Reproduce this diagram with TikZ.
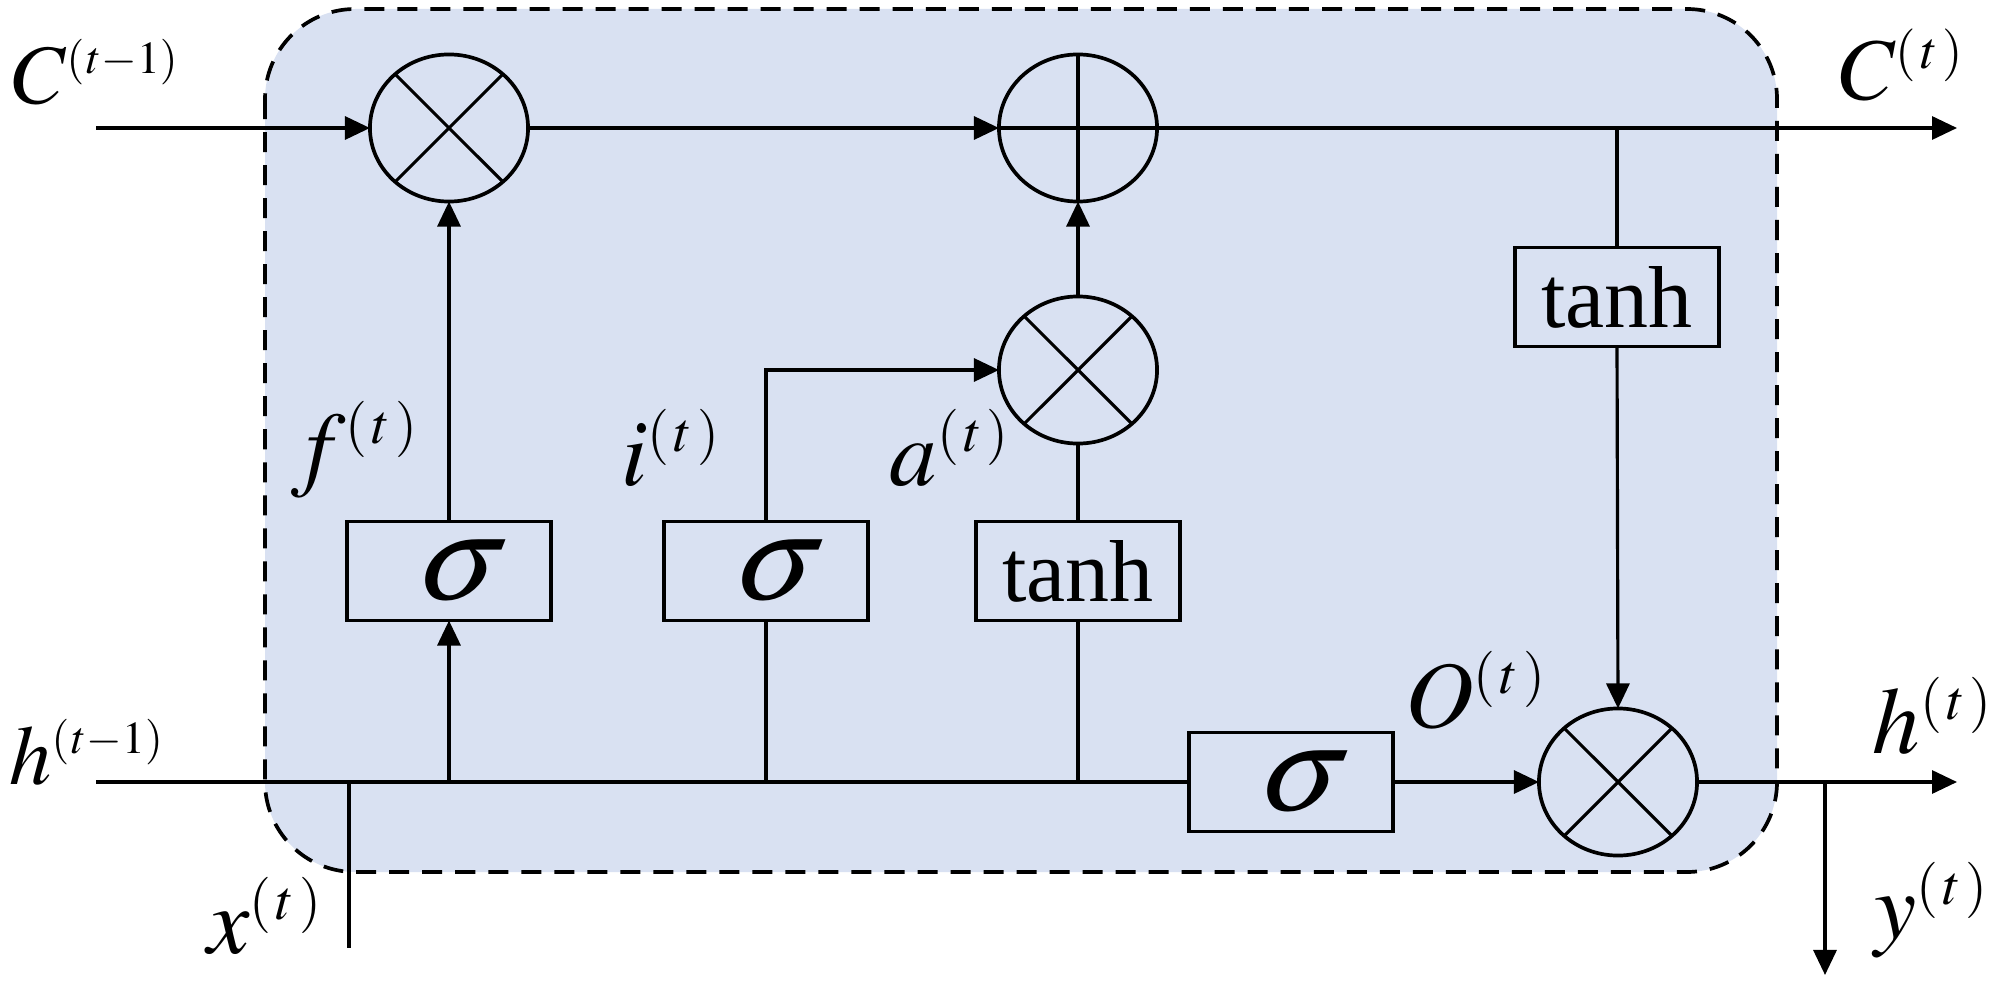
\documentclass[tikz,border=0pt]{standalone}
\usepackage{mathptmx}
\usepackage[no-math]{fontspec}
\setmainfont{Liberation Serif}
\usetikzlibrary{shapes.geometric,arrows.meta}
\DeclareMathSizes{24}{24}{13}{10}
\DeclareMathSizes{25}{25}{15}{10}
\DeclareMathSizes{27}{27}{16}{11}
\definecolor{cellfill}{RGB}{217,225,242}
\newcommand{\supt}{^{(\mkern1.5mu t\mkern1.5mu)}}
\begin{document}
\begin{tikzpicture}[x=0.01cm,y=-0.01cm,
  conn/.style={line width=0.9pt},
  arr/.style={conn,-{Triangle[length=0.25cm,width=0.23cm]}},
  opnode/.style={ellipse,draw,line width=1.05pt,minimum width=1.58cm,minimum height=1.47cm,inner sep=0pt,outer sep=0pt},
  gate/.style={rectangle,draw,line width=1.05pt,minimum width=2.04cm,minimum height=0.99cm,inner sep=0pt,outer sep=0pt},
  sigtxt/.style={inner sep=0pt,font=\fontsize{34}{38}\selectfont,xshift=0.12cm,xslant=0.22,transform shape},
  tnh/.style={gate,font=\fontsize{25}{30}\selectfont},
  lbls/.style={inner sep=0pt,font=\fontsize{24}{29}\selectfont},
  lbl/.style={inner sep=0pt,font=\fontsize{25}{30}\selectfont},
  lblb/.style={inner sep=0pt,font=\fontsize{27}{32}\selectfont}]
\useasboundingbox (0,0) rectangle (2000,988);
% cell background
\draw[fill=cellfill,line width=1.05pt,dash pattern=on 0.2cm off 0.13cm,rounded corners=0.9cm]
  (265,9) rectangle (1777,872);
% operators
\node[opnode] (m1) at (449,128) {};
\node[opnode] (p)  at (1078,128) {};
\node[opnode] (m2) at (1078,370) {};
\node[opnode] (m3) at (1618,782) {};
\draw[conn] (m1.45) -- (m1.225) (m1.135) -- (m1.315);
\draw[conn] (m2.45) -- (m2.225) (m2.135) -- (m2.315);
\draw[conn] (m3.45) -- (m3.225) (m3.135) -- (m3.315);
\draw[conn] (p.north) -- (p.south) (p.west) -- (p.east);
% gates
\node[gate] (s1) at (449,571) {};
\node[gate] (s2) at (766,571) {};
\node[tnh] (t2) at (1078,571) {tanh};
\node[gate] (s3) at (1291,782) {};
\node[tnh] (t1) at (1617,297) {tanh};
\node[sigtxt] (s1t) at (s1.center) {$\sigma$};
\node[sigtxt] (s2t) at (s2.center) {$\sigma$};
\node[sigtxt] (s3t) at (s3.center) {$\sigma$};
% coordinates
\coordinate (cin) at (96,128);
\coordinate (cout) at (1957,128);
\coordinate (hin) at (96,782);
\coordinate (hout) at (1957,782);
\coordinate (xb) at (349,948);
\coordinate (yb) at (1825,975);
% cell state line
\draw[arr] (cin) -- (m1.west);
\draw[arr] (m1.east) -- (p.west);
\draw[arr] (p.east) -- (cout);
\draw[conn] (t1.north |- p.east) -- (t1.north);
\draw[arr] (t1.south) -- (m3.north);
% hidden line
\draw[conn] (hin) -- (s3.west);
\draw[conn] (xb |- hin) -- (xb);
\draw[arr] (s1.south |- hin) -- (s1.south);
\draw[arr] (s1.north) -- (m1.south);
\draw[conn] (s2.south |- hin) -- (s2.south);
\draw[arr] (s2.north) |- (m2.west);
\draw[conn] (t2.south |- hin) -- (t2.south);
\draw[conn] (t2.north) -- (m2.south);
\draw[arr] (m2.north) -- (p.south);
\draw[arr] (s3.east) -- (m3.west);
\draw[arr] (m3.east) -- (hout);
\draw[arr] (yb |- hout) -- (yb);
% labels
\node[lbls] (lC0) at (96,72) {$C^{(\mkern1mu t-1)}$};
\node[lbl] (lC1) at (1902,65) {$C\supt$};
\node[lblb] (lf) at (355,450) {$f\supt$};
\node[lblb] (li) at (671,448) {$i\supt$};
\node[lblb] (la) at (950,448) {$a\supt$};
\node[lbls] (lh0) at (87,752) {$h^{(\mkern1mu t-1)}$};
\node[lblb] (lx) at (265,916) {$x\supt$};
\node[lblb] (lO) at (1476,690) {$O\supt$};
\node[lblb] (lh1) at (1933,716) {$h\supt$};
\node[lblb] (ly) at (1932,910) {$y\supt$};
\end{tikzpicture}
\end{document}
